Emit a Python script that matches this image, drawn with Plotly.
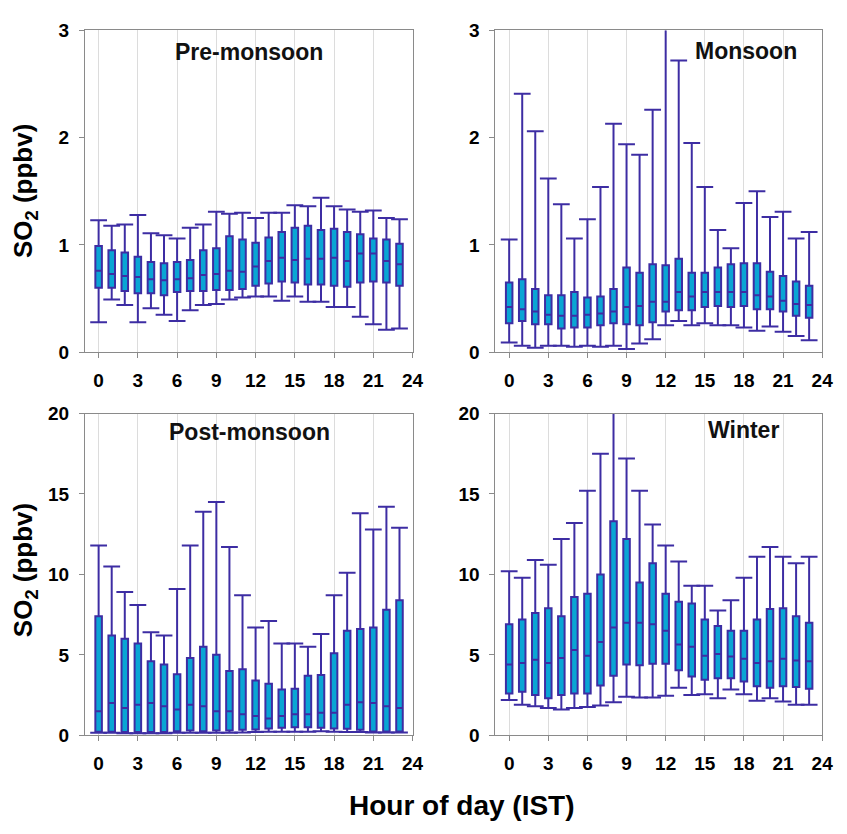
import plotly.graph_objects as go

hours = list(range(24))
x_ticks = [0, 3, 6, 9, 12, 15, 18, 21, 24]

# Pre-monsoon
pre_upper = [1.23, 1.18, 1.19, 1.28, 1.11, 1.09, 1.06, 1.16, 1.19, 1.31, 1.29, 1.30,
             1.25, 1.30, 1.30, 1.37, 1.36, 1.44, 1.36, 1.33, 1.31, 1.32, 1.25, 1.24]
pre_q3 = [0.99, 0.95, 0.93, 0.89, 0.84, 0.83, 0.84, 0.86, 0.95, 0.97, 1.08, 1.05,
          1.02, 1.07, 1.12, 1.16, 1.18, 1.14, 1.15, 1.12, 1.10, 1.06, 1.05, 1.01]
pre_med = [0.76, 0.73, 0.71, 0.70, 0.68, 0.67, 0.68, 0.69, 0.72, 0.73, 0.76, 0.75,
           0.80, 0.85, 0.88, 0.86, 0.87, 0.87, 0.88, 0.85, 0.92, 0.92, 0.85, 0.82]
pre_q1 = [0.60, 0.60, 0.57, 0.55, 0.55, 0.53, 0.56, 0.57, 0.57, 0.58, 0.58, 0.59,
          0.62, 0.64, 0.66, 0.65, 0.63, 0.63, 0.62, 0.61, 0.65, 0.66, 0.65, 0.62]
pre_lower = [0.28, 0.49, 0.44, 0.28, 0.41, 0.35, 0.29, 0.39, 0.44, 0.45, 0.49, 0.51,
             0.52, 0.52, 0.48, 0.52, 0.47, 0.47, 0.42, 0.42, 0.33, 0.26, 0.21, 0.22]

# Monsoon
mon_upper = [1.05, 2.41, 2.06, 1.62, 1.38, 1.06, 1.24, 1.54, 2.13, 1.94, 1.84, 2.26,
             3.40, 2.72, 1.95, 1.54, 1.14, 0.97, 1.39, 1.50, 1.26, 1.31, 1.06, 1.12]
mon_q3 = [0.65, 0.68, 0.59, 0.53, 0.53, 0.56, 0.51, 0.52, 0.59, 0.79, 0.74, 0.82,
          0.81, 0.87, 0.74, 0.74, 0.79, 0.82, 0.83, 0.83, 0.75, 0.71, 0.66, 0.62]
mon_med = [0.42, 0.40, 0.38, 0.35, 0.34, 0.34, 0.35, 0.36, 0.38, 0.42, 0.43, 0.47,
           0.47, 0.56, 0.52, 0.56, 0.56, 0.56, 0.56, 0.53, 0.52, 0.48, 0.45, 0.44]
mon_q1 = [0.27, 0.29, 0.26, 0.26, 0.22, 0.23, 0.23, 0.25, 0.27, 0.26, 0.25, 0.28,
          0.38, 0.39, 0.39, 0.42, 0.43, 0.42, 0.43, 0.40, 0.40, 0.38, 0.34, 0.32]
mon_lower = [0.09, 0.06, 0.04, 0.06, 0.06, 0.05, 0.06, 0.05, 0.06, 0.03, 0.08, 0.12,
             0.25, 0.29, 0.25, 0.27, 0.25, 0.25, 0.23, 0.20, 0.24, 0.19, 0.15, 0.11]

# Post-monsoon
post_upper = [11.8, 10.5, 8.9, 8.1, 6.4, 6.2, 9.1, 11.8, 13.9, 14.5, 11.7, 8.7,
              6.7, 7.1, 5.7, 5.7, 5.5, 6.3, 8.7, 10.1, 13.8, 12.8, 14.2, 12.9]
post_q3 = [7.4, 6.2, 6.0, 5.7, 4.6, 4.4, 3.8, 4.8, 5.5, 5.0, 4.0, 4.1,
           3.4, 3.2, 2.85, 2.9, 3.7, 3.75, 5.1, 6.5, 6.6, 6.7, 7.8, 8.4]
post_med = [1.5, 2.0, 1.7, 1.9, 2.0, 1.8, 1.6, 1.9, 1.8, 1.5, 1.5, 1.3,
            1.2, 1.05, 1.2, 1.3, 1.3, 1.4, 1.4, 1.9, 2.05, 2.0, 1.8, 1.7]
post_q1 = [0.22, 0.22, 0.2, 0.2, 0.2, 0.2, 0.25, 0.3, 0.25, 0.3, 0.3, 0.35,
           0.36, 0.42, 0.46, 0.5, 0.5, 0.46, 0.42, 0.4, 0.34, 0.24, 0.24, 0.24]
post_lower = [0.15, 0.15, 0.12, 0.12, 0.12, 0.12, 0.15, 0.15, 0.15, 0.15, 0.15, 0.18,
              0.2, 0.22, 0.22, 0.22, 0.22, 0.25, 0.22, 0.2, 0.2, 0.18, 0.18, 0.18]

# Winter
win_upper = [10.2, 9.8, 10.9, 10.6, 12.2, 13.2, 15.2, 17.5, 21.0, 17.2, 15.2, 13.1,
             11.8, 10.8, 9.3, 9.3, 7.75, 8.4, 9.8, 11.1, 11.7, 11.1, 10.7, 11.1]
win_q3 = [6.9, 7.2, 7.6, 7.9, 7.4, 8.6, 8.8, 10.0, 13.3, 12.2, 9.5, 10.7,
          8.8, 8.3, 8.2, 7.2, 6.8, 6.5, 6.5, 7.2, 7.85, 7.9, 7.4, 7.0]
win_med = [4.4, 4.5, 4.7, 4.5, 4.8, 5.3, 4.95, 5.8, 6.7, 7.0, 7.0, 6.9,
           6.5, 5.65, 5.5, 4.95, 5.05, 4.9, 4.75, 4.5, 4.6, 4.75, 4.65, 4.6]
win_q1 = [2.6, 2.7, 2.5, 2.3, 2.5, 2.6, 2.6, 3.1, 3.7, 4.4, 4.35, 4.45,
          4.45, 4.05, 3.65, 3.45, 3.55, 3.55, 3.35, 3.05, 2.95, 3.05, 3.0, 2.9]
win_lower = [2.2, 1.9, 1.8, 1.7, 1.6, 1.7, 1.75, 1.85, 2.05, 2.4, 2.35, 2.35,
             2.45, 2.95, 2.5, 2.55, 2.3, 2.85, 2.55, 2.15, 2.3, 2.1, 1.9, 1.9]

season_titles = ["Pre-monsoon", "Monsoon", "Post-monsoon", "Winter"]
y_ranges = [[0, 3], [0, 3], [0, 20], [0, 20]]
y_dticks = [1, 1, 5, 5]

seasons = [
    (pre_upper, pre_q3, pre_med, pre_q1, pre_lower),
    (mon_upper, mon_q3, mon_med, mon_q1, mon_lower),
    (post_upper, post_q3, post_med, post_q1, post_lower),
    (win_upper, win_q3, win_med, win_q1, win_lower),
]

W, H = 847, 834
LINE = "#3D2DA3"
FILL = "#0AA5D4"
FONT = "Liberation Sans, Arial, sans-serif"

# panel pixel boxes: left, right, top, bottom
panels = [(86, 418, 21, 351), (502, 833, 21, 351), (86, 418, 414, 744), (502, 833, 414, 744)]
title_pos = [(252, 43), (756, 42), (253, 433), (753, 431)]

fig = go.Figure()
layout = dict(
    width=W, height=H, margin=dict(l=0, r=0, t=0, b=0),
    paper_bgcolor="white", plot_bgcolor="white", showlegend=False,
    font=dict(family=FONT, color="black"),
    annotations=[],
)

for i, (up, q3, med, q1, lo) in enumerate(seasons):
    n = i + 1
    xs = "x" if n == 1 else f"x{n}"
    ys = "y" if n == 1 else f"y{n}"
    fig.add_trace(go.Box(
        x=hours, q1=q1, median=med, q3=q3, lowerfence=lo, upperfence=up,
        width=0.5, whiskerwidth=0, fillcolor=FILL,
        line=dict(color=LINE, width=2), boxpoints=False,
        xaxis=xs, yaxis=ys, hoverinfo="skip",
    ))
    fig.add_trace(go.Scatter(
        x=hours + hours, y=up + lo, mode="markers",
        marker=dict(symbol="line-ew", size=12, color=LINE,
                    line=dict(color=LINE, width=2)),
        xaxis=xs, yaxis=ys, hoverinfo="skip",
    ))
    l, r, t, b = panels[i]
    xkey = "xaxis" if n == 1 else f"xaxis{n}"
    ykey = "yaxis" if n == 1 else f"yaxis{n}"
    layout[xkey] = dict(
        domain=[l / W, r / W], anchor=ys, range=[-1.05, 24],
        tickmode="array", tickvals=x_ticks, ticktext=[str(v) for v in x_ticks],
        showgrid=True, gridcolor="#dcdcdc", gridwidth=1, zeroline=False,
        showline=True, linecolor="#8a8a8a", linewidth=1, mirror=True,
        ticks="outside", ticklen=5, tickcolor="#8a8a8a",
        tickfont=dict(size=19, family=FONT, color="black", weight="bold"),
        ticklabelstandoff=6,
    )
    layout[ykey] = dict(
        domain=[1 - b / H, 1 - t / H], anchor=xs, range=y_ranges[i],
        dtick=y_dticks[i], tick0=0, showgrid=False, zeroline=False,
        showline=True, linecolor="#8a8a8a", linewidth=1, mirror=True,
        ticks="outside", ticklen=5, tickcolor="#8a8a8a",
        tickfont=dict(size=19, family=FONT, color="black", weight="bold"),
        ticklabelstandoff=6,
    )
    tx, ty = title_pos[i]
    layout["annotations"].append(dict(
        text=season_titles[i], x=tx / W, y=1 - ty / H, xref="paper", yref="paper",
        xanchor="center", yanchor="middle", showarrow=False,
        font=dict(size=23, family=FONT, color="#111111", weight="bold"),
    ))

for yc in (186, 575):
    layout["annotations"].append(dict(
        text="SO<sub>2</sub> (ppbv)", x=25 / W, y=1 - yc / H, xref="paper", yref="paper",
        xanchor="center", yanchor="middle", showarrow=False, textangle=-90,
        font=dict(size=26, family=FONT, color="black", weight="bold"),
    ))

layout["annotations"].append(dict(
    text="Hour of day (IST)", x=468 / W, y=1 - 816 / H, xref="paper", yref="paper",
    xanchor="center", yanchor="middle", showarrow=False,
    font=dict(size=28, family=FONT, color="black", weight="bold"),
))

fig.update_layout(**layout)
fig.write_html("out.html")
